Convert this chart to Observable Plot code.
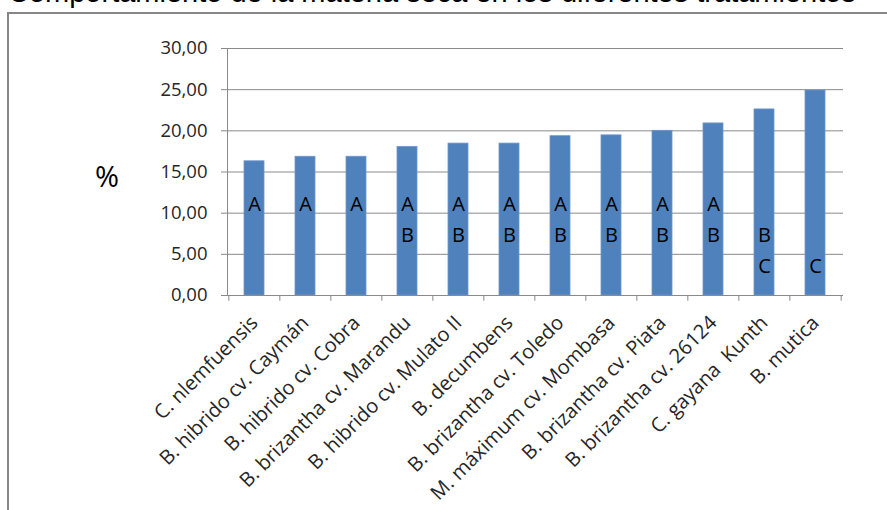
<!DOCTYPE html>
<html>
<head>
<meta charset="utf-8">
<script src="https://cdn.jsdelivr.net/npm/d3@7"></script>
<script src="https://cdn.jsdelivr.net/npm/@observablehq/plot@0.6"></script>
<style>
  html, body { margin: 0; padding: 0; background: #fff; }
  #wrap { position: relative; width: 887px; height: 510px; overflow: hidden; background: #fff; }
  #frame { position: absolute; left: 7px; top: 12px; width: 900px; height: 520px;
           border-left: 2px solid #878787; border-top: 2px solid #878787; }
  #title { position: absolute; left: 8px; top: -24px; white-space: nowrap;
           font-family: "Liberation Sans", Arial, sans-serif; font-size: 29px; color: #000; }
  #unit { position: absolute; left: 95px; top: 156px;
          font-family: "Open Sans", sans-serif; font-size: 29px; color: #000; }
  #chart { position: absolute; left: 0; top: 0; }
</style>
</head>
<body>
<div id="wrap">
  <div id="frame"></div>
  <div id="title">Comportamiento de la materia seca en los diferentes tratamientos</div>
  <div id="unit">%</div>
  <div id="chart"></div>
</div>
<script>
// Treatments (forage grasses), dry matter percentage and significance groups
const categories = [
  "C. nlemfuensis",
  "B. hibrido cv. Caymán",
  "B. hibrido cv. Cobra",
  "B. brizantha cv. Marandu",
  "B. hibrido cv. Mulato II",
  "B. decumbens",
  "B. brizantha cv. Toledo",
  "M. máximum cv. Mombasa",
  "B. brizantha cv. Piata",
  "B. brizantha cv. 26124",
  "C. gayana  Kunth",
  "B. mutica"
];
const values = [16.3, 16.85, 16.85, 18.05, 18.45, 18.45, 19.35, 19.45, 20.0, 20.9, 22.6, 24.9];
const groups = ["A", "A", "A", "AB", "AB", "AB", "AB", "AB", "AB", "AB", "BC", "C"];
const yTicks = [0, 5, 10, 15, 20, 25, 30];

const rows = categories.map((c, i) => ({cat: c, value: values[i]}));
// one text row per letter; each letter sits on its own band inside the bar
const letterLevel = {A: 11.1, B: 7.3, C: 3.5};
const letters = categories.flatMap((c, i) =>
  groups[i].split("").map(l => ({cat: c, letter: l, level: letterLevel[l]})));

const W = 887, H = 510;
const mL = 227, mR = 44, mT = 48, mB = 215;
const step = (W - mL - mR) / categories.length;
const lineColor = "#8a8a8a";
const fmt = d => d.toFixed(2).replace(".", ",");

const chart = Plot.plot({
  width: W,
  height: H,
  marginLeft: mL,
  marginRight: mR,
  marginTop: mT,
  marginBottom: mB,
  style: {fontFamily: "Open Sans, sans-serif", background: "transparent", color: "#222"},
  x: {domain: categories, paddingInner: 0.6, paddingOuter: 0.3, axis: null},
  y: {domain: [0, 30], axis: null},
  marks: [
    Plot.gridY(yTicks, {stroke: lineColor, strokeOpacity: 1}),
    Plot.barY(rows, {x: "cat", y: "value", fill: "#4f81bd", stroke: "#6f97c9", strokeWidth: 0.8}),
    Plot.ruleY([0], {stroke: lineColor}),
    Plot.frame({anchor: "left", stroke: lineColor}),
    Plot.axisY(yTicks, {
      tickFormat: fmt, tickSize: 6, tickPadding: 14, fontSize: 18.5,
      stroke: lineColor, fill: "#262626"
    }),
    // category separators on the x axis
    Plot.ruleX(categories, {x: d => d, dx: -step / 2, y1: 0, y2: -0.7, stroke: lineColor}),
    Plot.ruleX(categories.slice(-1), {x: d => d, dx: step / 2, y1: 0, y2: -0.7, stroke: lineColor}),
    Plot.text(categories, {
      x: d => d, y: 0, text: d => d, rotate: -45,
      textAnchor: "end", lineAnchor: "middle", dy: 24, dx: 0,
      fontSize: 20, fill: "#262626"
    }),
    Plot.text(letters, {
      x: "cat", y: "level", text: "letter",
      fontSize: 20, fill: "#000"
    })
  ]
});
document.getElementById("chart").appendChild(chart);
</script>
</body>
</html>
